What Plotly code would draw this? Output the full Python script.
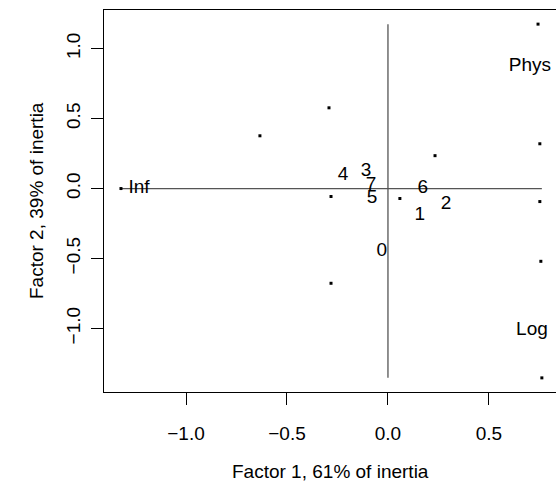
import plotly.graph_objects as go

# ---- data ----
dot_x = [0.743, 0.752, 0.752, 0.757, 0.762, -1.322, -0.292, -0.634, -0.282, -0.282, 0.059, 0.233]
dot_y = [1.175, 0.320, -0.093, -0.520, -1.353, 0.000, 0.577, 0.377, -0.677, -0.057, -0.071, 0.235]

labels = ["0", "1", "2", "3", "4", "5", "6", "7", "Inf", "Phys", "Log"]
label_x = [-0.030, 0.158, 0.287, -0.109, -0.223, -0.079, 0.173, -0.084, -1.233, 0.703, 0.713]
label_y = [-0.449, -0.192, -0.114, 0.121, 0.093, -0.071, 0.000, 0.021, 0.000, 0.876, -1.011]

x_ticks = [-1.0, -0.5, 0.0, 0.5]
x_ticktext = ["\u22121.0", "\u22120.5", "0.0", "0.5"]
y_ticks = [-1.0, -0.5, 0.0, 0.5, 1.0]
y_ticktext = ["\u22121.0", "\u22120.5", "0.0", "0.5", "1.0"]

x_title = "Factor 1, 61% of inertia"
y_title = "Factor 2, 39% of inertia"

FONT = "Liberation Sans, Arial, Helvetica, sans-serif"
FS = 19

fig = go.Figure()

# axes through origin spanning the data range
xmin, xmax = min(dot_x), max(dot_x)
ymin, ymax = min(dot_y), max(dot_y)
fig.add_trace(go.Scatter(x=[xmin, xmax], y=[0, 0], mode="lines",
                         line=dict(color="#555555", width=1.3), hoverinfo="skip"))
fig.add_trace(go.Scatter(x=[0, 0], y=[ymin, ymax], mode="lines",
                         line=dict(color="#555555", width=1.3), hoverinfo="skip"))

fig.add_trace(go.Scatter(x=dot_x, y=dot_y, mode="markers", cliponaxis=False,
                         marker=dict(symbol="square", size=3, color="black",
                                     line=dict(width=0))))
fig.add_trace(go.Scatter(x=label_x, y=label_y, mode="text", text=labels,
                         textposition="middle center", cliponaxis=False,
                         textfont=dict(family=FONT, size=FS, color="black")))

fig.update_layout(
    width=556, height=492,
    margin=dict(l=104, r=0, t=10, b=100, autoexpand=False),
    paper_bgcolor="white", plot_bgcolor="white",
    showlegend=False,
    font=dict(family=FONT, size=FS, color="black"),
    xaxis=dict(range=[-1.406, 0.832], showgrid=False, zeroline=False,
               showline=True, mirror=True, linecolor="black", linewidth=1,
               ticks="outside", ticklen=12, tickwidth=1, tickcolor="black",
               tickvals=x_ticks, ticktext=x_ticktext, ticklabelstandoff=12,
               automargin=False),
    yaxis=dict(range=[-1.454, 1.276], showgrid=False, zeroline=False,
               showline=True, mirror=False, linecolor="black", linewidth=1,
               ticks="outside", ticklen=12, tickwidth=1, tickcolor="black",
               tickvals=y_ticks, ticktext=y_ticktext, tickangle=-90,
               ticklabelstandoff=3, automargin=False),
    annotations=[
        dict(text=x_title, xref="paper", yref="paper", x=0.5, y=0,
             xanchor="center", yanchor="middle", yshift=-79, showarrow=False,
             font=dict(family=FONT, size=FS)),
        dict(text=y_title, xref="paper", yref="paper", x=0, y=0.5,
             xanchor="center", yanchor="middle", xshift=-68, textangle=-90,
             showarrow=False, font=dict(family=FONT, size=FS)),
    ],
)

fig.write_html("out.html", config={"displayModeBar": False},
               post_script="document.body.style.margin='0';")
